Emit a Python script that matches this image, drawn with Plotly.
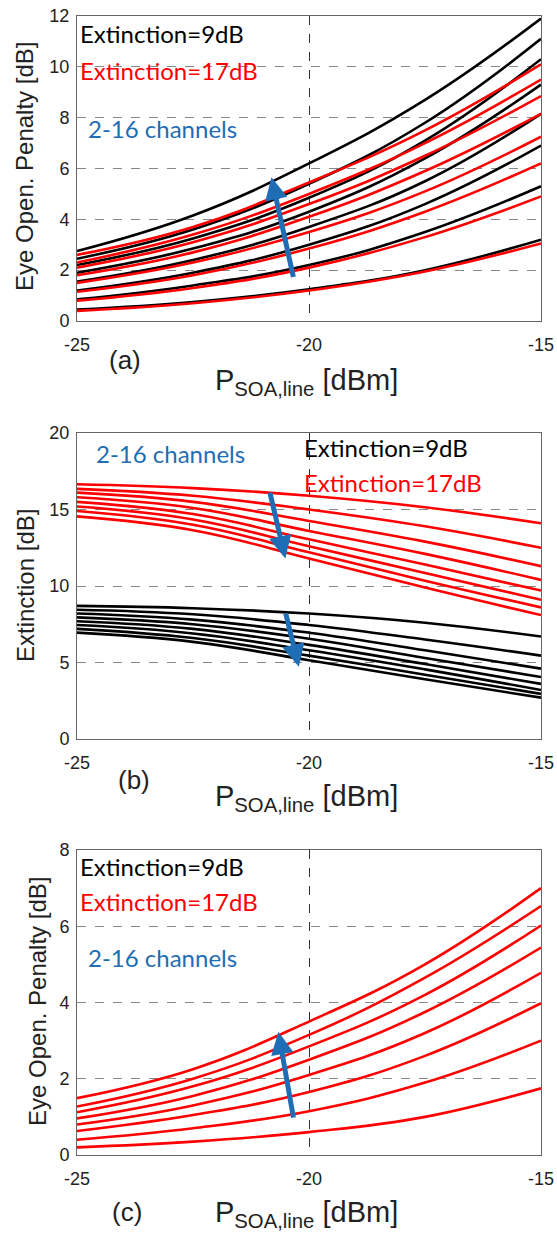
import plotly.graph_objects as go

W, H = 557, 1239

# x positions (dBm) where curve values were read
x_pts = [-25, -22.5, -20, -17.5, -15]

# Panel (a): eye-opening penalty, 2..16 channels (bottom to top)
a_black = [
    [0.45, 0.75, 1.25, 2.0, 3.2],
    [0.85, 1.4, 2.2, 3.5, 5.3],
    [1.2, 1.9, 3.0, 4.6, 6.9],
    [1.55, 2.4, 3.7, 5.5, 8.15],
    [1.9, 2.85, 4.3, 6.4, 9.3],
    [2.2, 3.25, 4.85, 7.1, 10.3],
    [2.45, 3.6, 5.4, 7.8, 11.1],
    [2.75, 4.15, 6.2, 8.7, 11.9],
]
a_red = [
    [0.4, 0.7, 1.2, 1.95, 3.05],
    [0.8, 1.3, 2.1, 3.3, 4.9],
    [1.15, 1.8, 2.85, 4.3, 6.2],
    [1.5, 2.3, 3.5, 5.1, 7.25],
    [1.8, 2.7, 4.1, 5.9, 8.15],
    [2.1, 3.1, 4.6, 6.5, 8.85],
    [2.3, 3.4, 5.0, 7.0, 9.5],
    [2.6, 3.7, 5.45, 7.5, 10.1],
]

# Panel (b): extinction after SOA, 2..16 channels (top to bottom)
b_red = [
    [16.65, 16.4, 15.9, 15.15, 14.1],
    [16.35, 15.9, 15.0, 13.9, 12.5],
    [16.1, 15.5, 14.25, 12.9, 11.3],
    [15.8, 15.1, 13.6, 12.1, 10.4],
    [15.5, 14.7, 13.05, 11.4, 9.7],
    [15.2, 14.35, 12.6, 10.85, 9.1],
    [14.9, 14.0, 12.2, 10.35, 8.6],
    [14.55, 13.65, 11.8, 9.9, 8.1],
]
b_black = [
    [8.7, 8.55, 8.2, 7.6, 6.7],
    [8.45, 8.15, 7.45, 6.5, 5.45],
    [8.2, 7.8, 6.95, 5.8, 4.6],
    [7.95, 7.5, 6.55, 5.3, 4.05],
    [7.7, 7.2, 6.15, 4.9, 3.6],
    [7.45, 6.9, 5.8, 4.55, 3.2],
    [7.2, 6.6, 5.45, 4.2, 2.95],
    [6.95, 6.35, 5.15, 3.9, 2.7],
]

# Panel (c): eye-opening penalty, 17 dB extinction only
c_red = [
    [0.2, 0.35, 0.6, 1.0, 1.75],
    [0.4, 0.7, 1.15, 1.9, 3.0],
    [0.63, 1.05, 1.65, 2.6, 3.98],
    [0.8, 1.3, 2.1, 3.2, 4.78],
    [0.96, 1.55, 2.5, 3.75, 5.44],
    [1.12, 1.8, 2.85, 4.2, 6.02],
    [1.27, 2.0, 3.15, 4.65, 6.53],
    [1.49, 2.25, 3.5, 5.0, 7.0],
]

x_ticks = [-25, -20, -15]
a_yticks = [0, 2, 4, 6, 8, 10, 12]
b_yticks = [0, 5, 10, 15, 20]
c_yticks = [0, 2, 4, 6, 8]

# arrows: (x_tail, y_tail, x_head, y_head)
a_arrow = (-20.33, 1.67, -20.81, 5.66)
b_arrow_red = (-20.85, 16.2, -20.51, 11.8)
b_arrow_black = (-20.51, 8.31, -20.22, 4.72)
c_arrow = (-20.33, 0.94, -20.66, 3.23)

RED = "#ff0000"
BLACK = "#000000"
BLUE = "#1f6db5"
TXT_FONT = "Lato"
AX_FONT = "Liberation Sans"


def fx(px):
    return px / W


def fy(py):
    return 1 - py / H


fig = go.Figure()

panels = [
    ("", a_black, a_red, (16, 321), [0, 12], a_yticks),
    ("2", b_black, b_red, (433, 739), [0, 20], b_yticks),
    ("3", None, c_red, (850, 1155), [0, 8], c_yticks),
]

for suf, blk, red, (top, bot), yr, yt in panels:
    xa = "x" + suf
    ya = "y" + suf
    if blk is not None:
        for s in blk:
            fig.add_trace(go.Scatter(x=x_pts, y=s, mode="lines", xaxis=xa, yaxis=ya,
                                     line=dict(color=BLACK, width=2.6, shape="spline", smoothing=1.2),
                                     showlegend=False, hoverinfo="skip"))
    for s in red:
        fig.add_trace(go.Scatter(x=x_pts, y=s, mode="lines", xaxis=xa, yaxis=ya,
                                 line=dict(color=RED, width=2.6, shape="spline", smoothing=1.2),
                                 showlegend=False, hoverinfo="skip"))
    xkey = "xaxis" + suf
    ykey = "yaxis" + suf
    fig.layout[xkey] = dict(
        domain=[fx(77), fx(541)], range=[-25, -15], anchor=ya, automargin=False,
        tickvals=x_ticks, ticktext=[str(v) for v in x_ticks], ticklabeloverflow="allow",
        ticklabelstandoff=7,
        showgrid=True, gridcolor="#333333", griddash="dash", gridwidth=1,
        showline=True, mirror=True, linecolor="#666666", linewidth=1,
        zeroline=False, ticks="", tickfont=dict(family=AX_FONT, size=18, color="#222"),
    )
    fig.layout[ykey] = dict(
        domain=[fy(bot), fy(top)], range=yr, anchor=xa, automargin=False,
        tickvals=yt, ticklabeloverflow="allow", ticklabelstandoff=3,
        showgrid=True, gridcolor="#888888", griddash="dash", gridwidth=1,
        showline=True, mirror=True, linecolor="#666666", linewidth=1,
        zeroline=False, ticks="", tickfont=dict(family=AX_FONT, size=18, color="#222"),
    )

ann = []


def add_arrow(suf, arr):
    xt, yt_, xh, yh = arr
    ann.append(dict(x=xh, y=yh, ax=xt, ay=yt_, xref="x" + suf, yref="y" + suf,
                    axref="x" + suf, ayref="y" + suf, showarrow=True, arrowhead=2,
                    arrowsize=0.9, arrowwidth=5, arrowcolor=BLUE, text=""))


def txt(text, xpx, ypx, color, size=24, xanchor="left", font=TXT_FONT, angle=0):
    ann.append(dict(text=text, x=fx(xpx), y=fy(ypx), xref="paper", yref="paper",
                    xanchor=xanchor, yanchor="middle", showarrow=False, textangle=angle,
                    font=dict(family=font, size=size, color=color)))


# Panel a
txt("Extinction=9dB", 78, 34, BLACK)
txt("Extinction=17dB", 78, 70, RED)
txt("2-16 channels", 86, 129, BLUE)
add_arrow("", a_arrow)
txt("Eye Open. Penalty [dB]", 25, 167, "#222", size=24, xanchor="center", font=AX_FONT, angle=-90)
txt("(a)", 125, 360, "#222", size=26, xanchor="center", font=AX_FONT)
txt("P<sub>SOA,line</sub> [dBm]", 306, 382, "#222", size=29, xanchor="center", font=AX_FONT)

# Panel b
txt("2-16 channels", 94, 453, BLUE)
txt("Extinction=9dB", 302, 447, BLACK)
txt("Extinction=17dB", 302, 482, RED)
add_arrow("2", b_arrow_red)
add_arrow("2", b_arrow_black)
txt("Extinction [dB]", 25, 586, "#222", size=24, xanchor="center", font=AX_FONT, angle=-90)
txt("(b)", 134, 780, "#222", size=26, xanchor="center", font=AX_FONT)
txt("P<sub>SOA,line</sub> [dBm]", 306, 798, "#222", size=29, xanchor="center", font=AX_FONT)

# Panel c
txt("Extinction=9dB", 78, 866, BLACK)
txt("Extinction=17dB", 78, 901, RED)
txt("2-16 channels", 86, 957, BLUE)
add_arrow("3", c_arrow)
txt("Eye Open. Penalty [dB]", 37, 1002, "#222", size=24, xanchor="center", font=AX_FONT, angle=-90)
txt("(c)", 127, 1212, "#222", size=26, xanchor="center", font=AX_FONT)
txt("P<sub>SOA,line</sub> [dBm]", 306, 1214, "#222", size=29, xanchor="center", font=AX_FONT)

fig.update_layout(
    width=W, height=H, margin=dict(l=0, r=0, t=0, b=0, autoexpand=False),
    paper_bgcolor="white", plot_bgcolor="white",
    annotations=ann, showlegend=False,
)

fig.write_html(
    "out.html",
    config={"displayModeBar": False},
    post_script="document.body.style.margin='0';document.body.style.overflow='hidden';",
)
